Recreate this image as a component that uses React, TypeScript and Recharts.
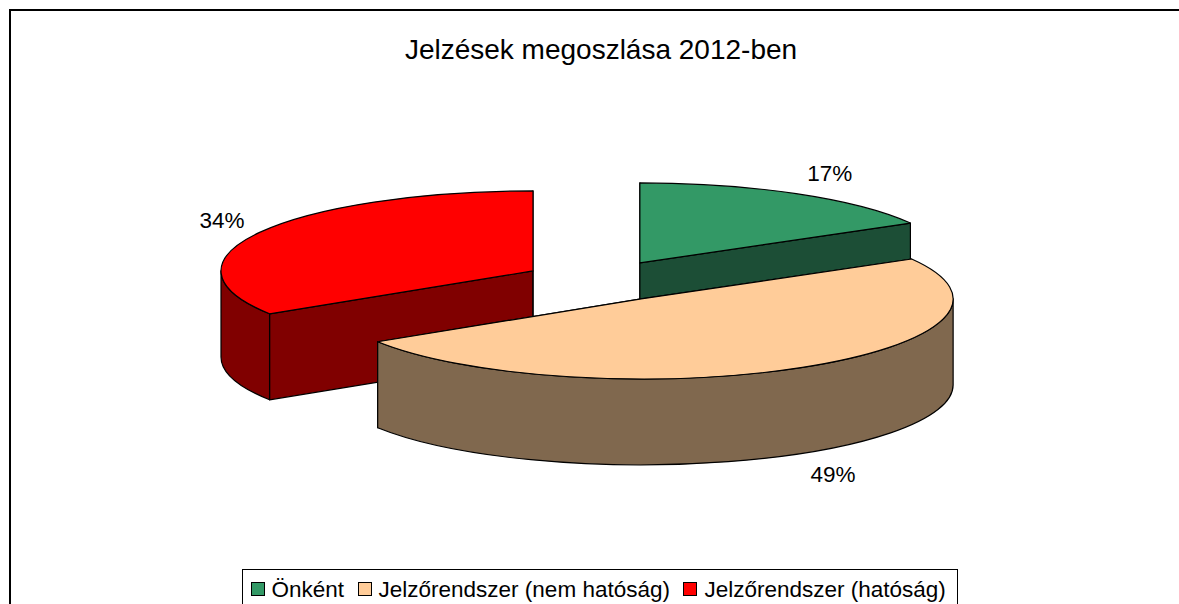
import React from 'react';
import { PieChart, Pie } from 'recharts';

const categories = ['Önként', 'Jelzőrendszer (nem hatóság)', 'Jelzőrendszer (hatóság)'];
const values = [16.7, 49.3, 34];
const topColors = ['#339966', '#FFCC99', '#FF0000'];
const sideColors = ['#1C4E36', '#80684E', '#800000'];
const chartTitle = 'Jelzések megoszlása 2012-ben';

const data = categories.map((name, i) => ({ name, value: values[i], fill: topColors[i], side: sideColors[i], idx: i }));

const W = 1179;
const H = 604;
const CX = 601;
const CY = 281;
const RX = 312;
const RY = 80;
const DEPTH = 86;
const EX = 77.6;
const EY = 20.9;
const rad = Math.PI / 180;

const pt = (cx: number, cy: number, a: number, dy = 0) => [
  cx + RX * Math.cos(a * rad),
  cy - RY * Math.sin(a * rad) + dy,
];
const f = (n: number) => n.toFixed(2);

function Slice3D(props: any) {
  const { startAngle, endAngle, payload, midAngle } = props;
  const p = payload ?? props;
  const mid = midAngle ?? (startAngle + endAngle) / 2;
  const cx = props.cx + EX * Math.cos(mid * rad);
  const cy = props.cy - EY * Math.sin(mid * rad);
  const [sx, sy] = pt(cx, cy, startAngle);
  const [ex, ey] = pt(cx, cy, endAngle);
  const stroke = { stroke: '#000', strokeWidth: 1.2, strokeLinejoin: 'round' as const };
  const large = Math.abs(startAngle - endAngle) > 180 ? 1 : 0;

  // Outer wall: only the part of the rim that faces the viewer (lower half of the ellipse)
  const hi = Math.min(startAngle, 0);
  const lo = Math.max(endAngle, -180);
  let rim: React.ReactNode = null;
  if (hi > lo) {
    const [ax, ay] = pt(cx, cy, hi);
    const [bx, by] = pt(cx, cy, lo);
    rim = (
      <path
        fill={p.side}
        {...stroke}
        d={`M${f(ax)},${f(ay)} A${RX},${RY} 0 0 1 ${f(bx)},${f(by)} L${f(bx)},${f(by + DEPTH)} A${RX},${RY} 0 0 0 ${f(ax)},${f(ay + DEPTH)} Z`}
      />
    );
  }

  const cut = (x: number, y: number) => (
    <path
      fill={p.side}
      {...stroke}
      d={`M${f(cx)},${f(cy)} L${f(x)},${f(y)} L${f(x)},${f(y + DEPTH)} L${f(cx)},${f(cy + DEPTH)} Z`}
    />
  );
  return (
    <g>
      {cut(sx, sy)}
      {cut(ex, ey)}
      {rim}
      <path
        fill={p.fill}
        {...stroke}
        d={`M${f(cx)},${f(cy)} L${f(sx)},${f(sy)} A${RX},${RY} 0 ${large} 1 ${f(ex)},${f(ey)} Z`}
      />
    </g>
  );
}

const labelReach = [[379, 103], [371, 205], [355, 104]];

function PctLabel(props: any) {
  const { cx, cy, midAngle, index, value } = props;
  const ox = cx + EX * Math.cos(midAngle * rad);
  const oy = cy - EY * Math.sin(midAngle * rad);
  const [rx, ry] = labelReach[index];
  return (
    <text
      x={ox + rx * Math.cos(midAngle * rad)}
      y={oy - ry * Math.sin(midAngle * rad)}
      textAnchor="middle"
      dominantBaseline="central"
      fontFamily="Liberation Sans"
      fontSize={22.5}
      fill="#000"
    >
      {`${Math.round(value)}%`}
    </text>
  );
}

function LegendBox() {
  return (
    <div
      style={{
        position: 'absolute',
        left: 242,
        top: 569,
        height: 50,
        boxSizing: 'border-box',
        border: '1.5px solid #000',
        background: '#fff',
        display: 'flex',
        alignItems: 'flex-start',
        paddingTop: 8,
        paddingLeft: 7.5,
        paddingRight: 11,
        whiteSpace: 'nowrap',
        fontFamily: 'Liberation Sans',
        fontSize: 22.5,
        lineHeight: '24px',
        color: '#000',
      }}
    >
      {data.map((e, i) => (
        <span key={e.name} style={{ display: 'inline-flex', alignItems: 'center', marginRight: i < 2 ? 13.5 : 0 }}>
          <span
            style={{
              display: 'inline-block',
              width: 14,
              height: 14,
              marginTop: -2,
              boxSizing: 'border-box',
              border: '1.5px solid #000',
              background: e.fill,
              marginRight: 7,
            }}
          />
          {e.name}
        </span>
      ))}
    </div>
  );
}

export default function App() {
  return (
    <div style={{ position: 'absolute', left: 0, top: 0, width: W, height: H, overflow: 'hidden', background: '#fff' }}>
      <div
        style={{
          position: 'absolute',
          left: 9,
          top: 9,
          width: 1300,
          height: 800,
          boxSizing: 'border-box',
          border: '2px solid #000',
        }}
      />
      <div
        style={{
          position: 'absolute',
          left: 0,
          top: 34,
          width: 1202,
          textAlign: 'center',
          fontFamily: 'Liberation Sans',
          fontSize: 28,
          lineHeight: '32px',
          color: '#000',
        }}
      >
        {chartTitle}
      </div>
      <PieChart width={W} height={H} margin={{ top: 0, right: 0, bottom: 0, left: 0 }} style={{ position: 'absolute', left: 0, top: 0 }}>
        <Pie
          data={data}
          dataKey="value"
          nameKey="name"
          cx={CX}
          cy={CY}
          outerRadius={RX}
          startAngle={90}
          endAngle={-270}
          isAnimationActive={false}
          shape={(p: any) => (p.idx === 1 ? <g /> : <Slice3D {...p} />)}
          label={false}
          labelLine={false}
        />
        <Pie
          data={data}
          dataKey="value"
          nameKey="name"
          cx={CX}
          cy={CY}
          outerRadius={RX}
          startAngle={90}
          endAngle={-270}
          isAnimationActive={false}
          legendType="none"
          shape={(p: any) => (p.idx === 1 ? <Slice3D {...p} /> : <g />)}
          label={(p: any) => <PctLabel {...p} />}
          labelLine={false}
        />
      </PieChart>
      <LegendBox />
    </div>
  );
}
